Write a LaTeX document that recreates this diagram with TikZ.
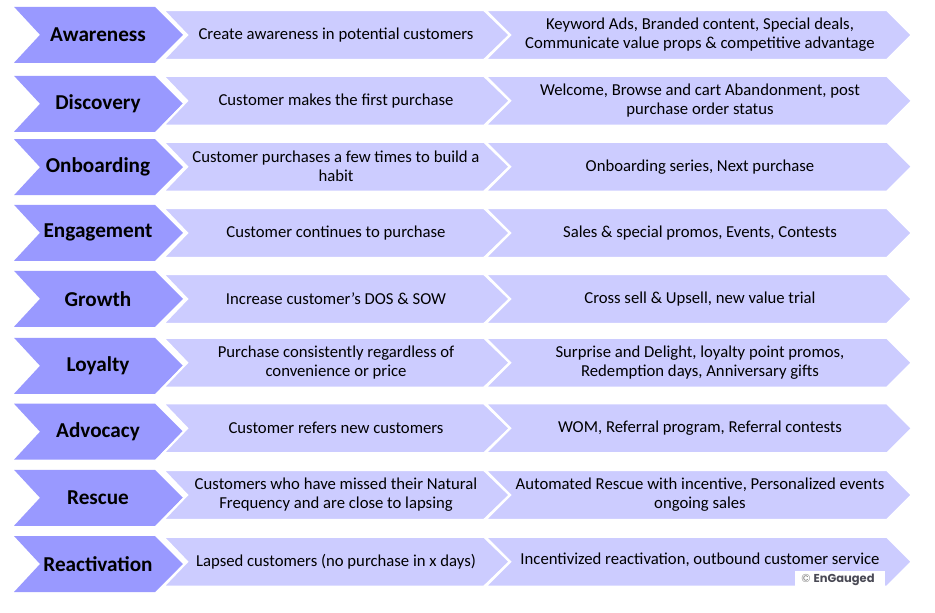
\documentclass[tikz,border=0pt]{standalone}
\usepackage{fontspec}
\setmainfont{Carlito}
\newfontfamily\cpyfont{Poppins}
\definecolor{darkchev}{HTML}{9999FF}
\definecolor{lightchev}{HTML}{CCCCFF}
\definecolor{cpygray}{HTML}{4A4A55}
\tikzset{
  labtext/.style={font=\fontsize{21.2}{24}\selectfont\bfseries, text=black, align=center},
  bodytext/.style={font=\fontsize{16.7}{19}\selectfont, text=black, align=center},
  darkfill/.style={fill=darkchev, draw=none},
  lightfill/.style={fill=lightchev, draw=white, line width=2.2pt, line join=miter},
}
% #1 index, #2 dark centre y, #3 light centre y, #4 label, #5 description, #6 actions
\newcommand\chevrow[6]{%
  \pgfmathsetmacro\cy{#2}\pgfmathsetmacro\cl{#3}
  \pgfmathsetmacro\ta{\cy-28}\pgfmathsetmacro\ba{\cy+28}
  \pgfmathsetmacro\tb{\cl-25}\pgfmathsetmacro\bb{\cl+25}
  \fill[darkchev] (14,\ta) -- (155,\ta) -- (183,\cy) -- (155,\ba) -- (14,\ba) -- (40,\cy) -- cycle;
  \filldraw[lightfill] (163,\tb) -- (484,\tb) -- (510,\cl) -- (484,\bb) -- (163,\bb) -- (187,\cl) -- cycle;
  \filldraw[lightfill] (485,\tb) -- (887,\tb) -- (912,\cl) -- (887,\bb) -- (485,\bb) -- (510,\cl) -- cycle;
  \node[labtext] (lab#1) at (98,\cy) {#4};
  \node[bodytext] (dsc#1) at (336,\cl) {#5};
  \node[bodytext] (act#1) at (700,\cl) {#6};
}
\begin{document}
\begin{tikzpicture}[x=1pt,y=-1pt]
\useasboundingbox[fill=white] (0,0) rectangle (935,613);
\chevrow{0}{34.8}{35}{Awareness}{Create awareness in potential customers}{Keyword Ads, Branded content, Special deals,\\Communicate value props \& competitive advantage}
\chevrow{1}{103.8}{100.8}{Discovery}{Customer makes the first purchase}{Welcome, Browse and cart Abandonment, post\\purchase order status}
\chevrow{2}{167.2}{166.7}{Onboarding}{Customer purchases a few times to build a\\habit}{Onboarding series, Next purchase}
\chevrow{3}{232.8}{233}{Engagement}{Customer continues to purchase}{Sales \& special promos, Events, Contests}
\chevrow{4}{298.8}{299}{Growth}{Increase customer's DOS \& SOW}{Cross sell \& Upsell, new value trial}
\chevrow{5}{365.8}{362.7}{Loyalty}{Purchase consistently regardless of\\convenience or price}{Surprise and Delight, loyalty point promos,\\Redemption days, Anniversary gifts}
\chevrow{6}{431.7}{428.3}{Advocacy}{Customer refers new customers}{WOM, Referral program, Referral contests}
\chevrow{7}{497.8}{495}{Rescue}{Customers who have missed their Natural\\Frequency and are close to lapsing}{Automated Rescue with incentive, Personalized events\\ongoing sales}
\chevrow{8}{564}{561.7}{Reactivation}{Lapsed customers (no purchase in x days)}{}
\node[bodytext] (act8b) at (700,560) {Incentivized reactivation, outbound customer service};
\fill[white] (795,571) rectangle (885,586.7);
\node[font=\cpyfont\fontsize{11.5}{13}\selectfont, inner sep=0pt] (cpy) at (838,580) {\textcolor{gray}{©}~\textcolor{cpygray}{\bfseries EnGauged}};
\end{tikzpicture}
\end{document}
